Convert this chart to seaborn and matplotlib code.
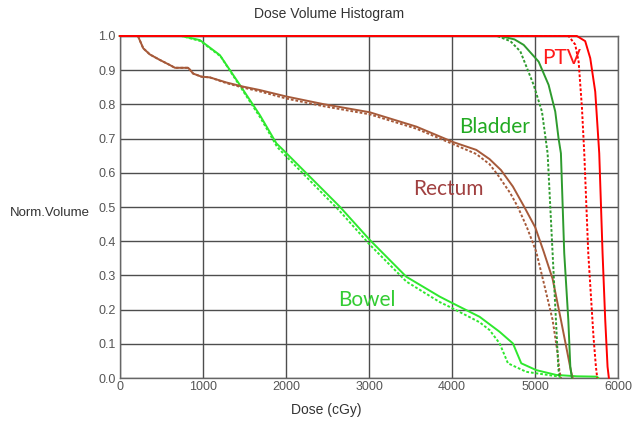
# IMPORTING LIBRARIES

import matplotlib
matplotlib.use('Agg')
import matplotlib.pyplot as plt
import seaborn as sns
import numpy as np


# DVH DATA (DOSE IN cGy, NORMALISED VOLUME) - SOLID = PLAN A, DASHED = PLAN B

ptv_a_dose = [0, 5500, 5600, 5661, 5721, 5769, 5809, 5841, 5869, 5885]
ptv_a_vol = [1.0, 1.0, 0.985, 0.935, 0.837, 0.657, 0.365, 0.17, 0.033, 0.0]
ptv_b_dose = [0, 5400, 5480, 5521, 5561, 5589, 5637, 5700, 5729, 5745]
ptv_b_vol = [1.0, 1.0, 0.975, 0.925, 0.79, 0.657, 0.365, 0.12, 0.033, 0.0]

bladder_a_dose = [0, 4579, 4750, 4860, 5040, 5160, 5240, 5280, 5308, 5348, 5397, 5421, 5440]
bladder_a_vol = [1.0, 1.0, 0.99, 0.974, 0.925, 0.857, 0.779, 0.70, 0.657, 0.365, 0.17, 0.033, 0.0]
bladder_b_dose = [0, 4540, 4700, 4820, 4980, 5080, 5148, 5208, 5248, 5276, 5290]
bladder_b_vol = [1.0, 1.0, 0.985, 0.955, 0.857, 0.779, 0.657, 0.365, 0.17, 0.033, 0.0]

rectum_a_dose = [0, 220, 284, 364, 484, 605, 665, 825, 885, 985, 1085, 1286, 1486, 1686, 2007,
                 2447, 3008, 3569, 4010, 4290, 4450, 4587, 4730, 4868, 5000, 5100, 5208, 5308,
                 5389, 5429, 5450]
rectum_a_vol = [1.0, 1.0, 0.964, 0.946, 0.93, 0.915, 0.907, 0.907, 0.89, 0.881, 0.879, 0.864,
                0.852, 0.842, 0.823, 0.801, 0.777, 0.735, 0.69, 0.667, 0.64, 0.608, 0.56, 0.50,
                0.44, 0.37, 0.29, 0.17, 0.07, 0.02, 0.0]
rectum_b_dose = [0, 220, 284, 364, 484, 605, 665, 825, 885, 985, 1085, 1286, 1486, 1686, 2007,
                 2447, 3008, 3569, 4010, 4290, 4450, 4560, 4700, 4790, 4900, 5010, 5110, 5208,
                 5270, 5290, 5310]
rectum_b_vol = [1.0, 1.0, 0.964, 0.946, 0.93, 0.915, 0.907, 0.907, 0.89, 0.881, 0.879, 0.862,
                0.849, 0.838, 0.817, 0.795, 0.771, 0.729, 0.684, 0.655, 0.625, 0.59, 0.54, 0.50,
                0.44, 0.37, 0.27, 0.17, 0.07, 0.02, 0.0]

bowel_a_dose = [0, 745, 965, 1206, 1446, 1686, 1886, 1966, 2648, 3008, 3449, 3850, 3970, 4330,
                4571, 4731, 4831, 5012, 5252, 5500, 5740, 5760]
bowel_a_vol = [1.0, 1.0, 0.988, 0.944, 0.857, 0.769, 0.686, 0.667, 0.501, 0.404, 0.296, 0.238,
               0.223, 0.179, 0.135, 0.101, 0.043, 0.023, 0.009, 0.005, 0.004, 0.0]
bowel_b_dose = [0, 745, 975, 1216, 1456, 1696, 1896, 1976, 2648, 3008, 3449, 3850, 3970, 4330,
                4451, 4571, 4671, 4892, 5292, 5310]
bowel_b_vol = [1.0, 1.0, 0.985, 0.94, 0.85, 0.76, 0.675, 0.655, 0.488, 0.39, 0.282, 0.222,
               0.208, 0.163, 0.14, 0.101, 0.043, 0.018, 0.004, 0.0]

structures = ['Bowel', 'Rectum', 'Bladder', 'PTV']
line_colors = {'PTV': '#ff0000', 'Bladder': '#2e9b2e', 'Rectum': '#a65a3a', 'Bowel': '#2ee82e'}
text_colors = {'PTV': '#ff1a1a', 'Bladder': '#22aa22', 'Rectum': '#a04040', 'Bowel': '#33cc33'}
curves = {
    'PTV': [(ptv_a_dose, ptv_a_vol), (ptv_b_dose, ptv_b_vol)],
    'Bladder': [(bladder_a_dose, bladder_a_vol), (bladder_b_dose, bladder_b_vol)],
    'Rectum': [(rectum_a_dose, rectum_a_vol), (rectum_b_dose, rectum_b_vol)],
    'Bowel': [(bowel_a_dose, bowel_a_vol), (bowel_b_dose, bowel_b_vol)],
}
label_pos = {'PTV': (5315, 0.936), 'Bladder': (4511, 0.734), 'Rectum': (3958, 0.553),
             'Bowel': (2972, 0.228)}


# STYLE

sns.set_style('white')
plt.rcParams['font.family'] = ['Liberation Sans', 'DejaVu Sans']


# PLOTTING THE DVH

fig = plt.figure(figsize=(6.33, 4.28), dpi=100)
ax = fig.add_axes([0.189, 0.1168, 0.788, 0.7991])

for name in structures:
    (da, va), (db, vb) = curves[name]
    sns.lineplot(x=da, y=va, ax=ax, color=line_colors[name], linewidth=1.4,
                 estimator=None, sort=False, clip_on=False, zorder=3)
    sns.lineplot(x=db, y=vb, ax=ax, color=line_colors[name], linewidth=1.4,
                 linestyle=(0, (1.4, 1.0)), estimator=None, sort=False, clip_on=False, zorder=3)

for name in structures:
    x, y = label_pos[name]
    ax.text(x, y, name, color=text_colors[name], fontsize=15, ha='center', va='center',
            family=['Lato', 'DejaVu Sans'], zorder=4)

ax.set_xlim(0, 6000)
ax.set_ylim(0, 1.0)
ax.set_xticks(np.arange(0, 6001, 1000))
ax.set_yticks(np.arange(0, 1.01, 0.1))
ax.set_yticklabels(['%.1f' % t for t in np.arange(0, 1.01, 0.1)])
ax.grid(True, color='#4d4d4d', linewidth=1.0, zorder=1)
ax.set_axisbelow(True)
for s in ax.spines.values():
    s.set_color('#666666')
    s.set_linewidth(1.0)
ax.tick_params(axis='y', length=0, pad=3, labelsize=9, labelcolor='#555555')
ax.tick_params(axis='x', length=0, pad=2, labelsize=9, labelcolor='#555555')
ax.set_xlabel('')
ax.set_ylabel('')

fig.text(0.52, 0.967, 'Dose Volume Histogram', ha='center', va='center', fontsize=10, color='#333333')
fig.text(0.516, 0.042, 'Dose (cGy)', ha='center', va='center', fontsize=10, color='#333333')
fig.text(0.016, 0.502, 'Norm.Volume', ha='left', va='center', fontsize=9.5, color='#333333')

plt.savefig('out.png', dpi=100)
